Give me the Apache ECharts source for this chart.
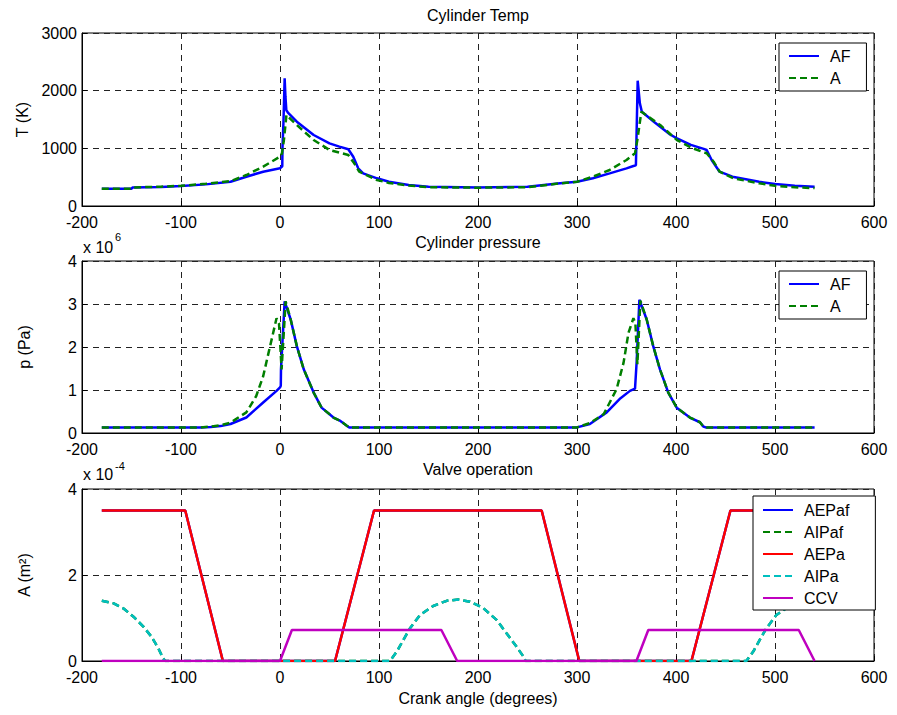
<!DOCTYPE html>
<html>
<head>
<meta charset="utf-8">
<script src="https://cdn.jsdelivr.net/npm/echarts@6/dist/echarts.min.js"></script>
<style>html,body{margin:0;padding:0;background:#fff}</style>
</head>
<body>
<div id="main" style="width:897px;height:715px"></div>
<script type="text/javascript">
// [crank angle (deg), value] pairs

// Cylinder Temp, K
var tempAF = [[-180,300],[-150,300],[-149,322],[-120,330],[-100,345],[-75,375],[-50,421],[-34,508],[-17,595],[0,654],[2.3,690],[2.5,1000],[3.5,1460],[4.7,2214],[5.5,1900],[6.4,1660],[8,1620],[17,1462],[34,1231],[50,1087],[60,1030],[69,983],[74,855],[79,653],[84,566],[98,480],[110,420],[130,365],[150,335],[200,320],[250,335],[283,393],[300,421],[316,480],[333,566],[350,653],[357,694],[359.5,705],[360,1100],[361.3,2173],[363.5,1781],[365.5,1635],[377,1470],[394,1240],[401,1174],[415,1060],[428,990],[431,971],[436,798],[444,595],[457,508],[484,421],[500,380],[520,350],[540,335]];
var tempA = [[-180,300],[-150,300],[-149,322],[-120,335],[-100,350],[-75,385],[-50,430],[-34,537],[-17,682],[0,855],[2,914],[4,1150],[6.5,1578],[17,1404],[34,1144],[50,971],[69,884],[75,740],[80,595],[98,451],[110,400],[130,355],[150,325],[200,318],[250,325],[283,393],[300,420],[316,508],[333,624],[350,798],[358.6,914],[361,1150],[365,1635],[384,1404],[401,1144],[417,1000],[431,914],[438,768],[444,595],[458,480],[484,393],[500,350],[520,325],[540,310]];

// Cylinder pressure, x 10^6 Pa
var presAF = [[-180,0.13],[-80,0.13],[-70,0.14],[-60,0.16],[-50,0.21],[-34,0.36],[-17,0.71],[-3.5,0.98],[0,1.06],[0.8,1.1],[1,1.48],[4.7,3.06],[10.8,2.64],[17,2.02],[24,1.48],[34,0.94],[42,0.59],[54,0.36],[61,0.28],[67.5,0.17],[70,0.13],[300,0.13],[313,0.21],[330,0.48],[343,0.79],[353.5,0.98],[358.6,1.03],[360.3,1.67],[363,3.1],[370.4,2.64],[377,2.02],[383.8,1.48],[392.2,0.94],[400.7,0.59],[414,0.36],[424.2,0.25],[427.6,0.15],[430,0.13],[540,0.13]];
var presA = [[-180,0.13],[-80,0.13],[-70,0.15],[-60,0.18],[-50,0.24],[-34,0.48],[-24,0.86],[-17,1.32],[-10,2.02],[-3.5,2.67],[-1,2.55],[1.6,1.48],[5.7,3.06],[10.8,2.64],[17,2.02],[24,1.48],[34,0.94],[42,0.59],[54,0.36],[61,0.28],[67.5,0.17],[70,0.13],[300,0.13],[313,0.23],[327,0.44],[340,1.02],[347,1.63],[352,2.33],[357,2.67],[359,2.55],[361,1.6],[364,3.08],[370.4,2.64],[377,2.02],[383.8,1.48],[392.2,0.94],[400.7,0.59],[414,0.36],[424.2,0.25],[427.6,0.15],[430,0.13],[540,0.13]];

// Valve operation, x 10^-4 m^2
var aepAF = [[-180,3.5],[-95.7,3.5],[-57.7,0],[55.6,0],[95,3.5],[264.3,3.5],[302.3,0],[415.6,0],[455,3.5],[540,3.5]];
var aipAF = [[-180,1.40],[-168,1.34],[-158,1.22],[-148,1.03],[-138,0.80],[-130,0.57],[-123,0.30],[-118,0.06],[-116,0],[111,0],[118,0.22],[124.6,0.49],[131.3,0.76],[141.4,1.07],[154.8,1.28],[168.4,1.40],[180,1.43],[192,1.38],[205.4,1.23],[219,0.95],[229,0.64],[239,0.33],[246,0.10],[248,0],[471,0],[478,0.22],[484.6,0.49],[491.3,0.76],[501.4,1.07],[514.8,1.28],[528.4,1.40],[540,1.43]];
var aepA = [[-180,3.5],[-95.7,3.5],[-57.7,0],[55.6,0],[95,3.5],[264.3,3.5],[302.3,0],[415.6,0],[455,3.5],[540,3.5]];
var aipA = [[-180,1.40],[-168,1.34],[-158,1.22],[-148,1.03],[-138,0.80],[-130,0.57],[-123,0.30],[-118,0.06],[-116,0],[111,0],[118,0.22],[124.6,0.49],[131.3,0.76],[141.4,1.07],[154.8,1.28],[168.4,1.40],[180,1.43],[192,1.38],[205.4,1.23],[219,0.95],[229,0.64],[239,0.33],[246,0.10],[248,0],[471,0],[478,0.22],[484.6,0.49],[491.3,0.76],[501.4,1.07],[514.8,1.28],[528.4,1.40],[540,1.43]];
var ccv = [[-180,0],[0,0],[12,0.72],[163,0.72],[179,0],[360,0],[372,0.72],[524,0.72],[540,0]];

var FONT = '"Liberation Sans", Arial, Helvetica, sans-serif';
var FS = 16;

var myChart = echarts.init(document.getElementById('main'), null, {renderer: 'svg'});

function plain(v) { return String(v); }

function xAx(i) {
    return {
        type: 'value', gridIndex: i, min: -200, max: 600, interval: 100,
        axisLine: {show: true, onZero: false, lineStyle: {color: '#000', width: 1}},
        axisTick: {show: true, inside: true, length: 5, lineStyle: {color: '#000'}},
        axisLabel: {color: '#000', fontSize: FS, fontFamily: FONT, margin: 8, formatter: plain},
        splitLine: {show: true, lineStyle: {color: '#222', width: 1, type: [6, 5]}}
    };
}
function yAx(i, max, step, name) {
    return {
        type: 'value', gridIndex: i, min: 0, max: max, interval: step,
        name: name, nameLocation: 'middle', nameGap: 50, nameRotate: 90,
        nameTextStyle: {color: '#000', fontSize: FS, fontFamily: FONT},
        axisLine: {show: true, onZero: false, lineStyle: {color: '#000', width: 1}},
        axisTick: {show: true, inside: true, length: 5, lineStyle: {color: '#000'}},
        axisLabel: {color: '#000', fontSize: FS, fontFamily: FONT, margin: 5, formatter: plain},
        splitLine: {show: true, lineStyle: {color: '#222', width: 1, type: [6, 5]}}
    };
}
function line(name, i, data, color, dashed) {
    return {
        name: name, type: 'line', xAxisIndex: i, yAxisIndex: i, data: data,
        symbol: 'none', animation: false,
        lineStyle: {color: color, width: 2.5, type: dashed ? [7, 4] : 'solid'},
        itemStyle: {color: color}
    };
}
function legendBox(names, left, top, pad) {
    return {
        data: names, orient: 'vertical', left: left, top: top, padding: pad,
        itemWidth: 30, itemHeight: 14, itemGap: 4,
        itemStyle: {opacity: 0, borderWidth: 0},
        backgroundColor: '#fff', borderColor: '#000', borderWidth: 1, borderRadius: 0,
        selectedMode: false,
        textStyle: {color: '#000', fontSize: FS, fontFamily: FONT, lineHeight: 18, padding: [0, 0, 0, 6]}
    };
}

option = {
    backgroundColor: '#fff',
    animation: false,
    grid: [
        {left: 82, top: 33, width: 792, height: 173, show: true, borderColor: '#000', borderWidth: 1},
        {left: 82, top: 261, width: 792, height: 172, show: true, borderColor: '#000', borderWidth: 1},
        {left: 82, top: 489, width: 792, height: 172, show: true, borderColor: '#000', borderWidth: 1}
    ],
    xAxis: [xAx(0), xAx(1), xAx(2)],
    yAxis: [yAx(0, 3000, 1000, 'T (K)'), yAx(1, 4, 1, 'p (Pa)'), yAx(2, 4, 2, 'A (m\u00b2)')],
    legend: [
        legendBox(['AF', 'A'], 779, 43, [4, 16, 4, 9]),
        legendBox(['AF', 'A'], 779, 271, [4, 16, 4, 9]),
        legendBox(['AEPaf', 'AIPaf', 'AEPa', 'AIPa', 'CCV'], 753, 496, [5, 26, 3, 9])
    ],
    graphic: [
        {type: 'text', x: 478, y: 15, style: {text: 'Cylinder Temp', fill: '#000', fontSize: FS, fontFamily: FONT, textAlign: 'center', textVerticalAlign: 'middle'}},
        {type: 'text', x: 478, y: 242, style: {text: 'Cylinder pressure', fill: '#000', fontSize: FS, fontFamily: FONT, textAlign: 'center', textVerticalAlign: 'middle'}},
        {type: 'text', x: 478, y: 469, style: {text: 'Valve operation', fill: '#000', fontSize: FS, fontFamily: FONT, textAlign: 'center', textVerticalAlign: 'middle'}},
        {type: 'text', x: 478, y: 698, style: {text: 'Crank angle (degrees)', fill: '#000', fontSize: FS, fontFamily: FONT, textAlign: 'center', textVerticalAlign: 'middle'}},
        {type: 'text', x: 83, y: 247, style: {text: 'x 10', fill: '#000', fontSize: FS, fontFamily: FONT, textVerticalAlign: 'middle'}},
        {type: 'text', x: 115, y: 237, style: {text: '6', fill: '#000', fontSize: 11, fontFamily: FONT, textVerticalAlign: 'middle'}},
        {type: 'text', x: 83, y: 474, style: {text: 'x 10', fill: '#000', fontSize: FS, fontFamily: FONT, textVerticalAlign: 'middle'}},
        {type: 'text', x: 115, y: 466, style: {text: '-4', fill: '#000', fontSize: 11, fontFamily: FONT, textVerticalAlign: 'middle'}}
    ],
    series: [
        line('AF', 0, tempAF, '#0000ff', false),
        line('A', 0, tempA, '#007f00', true),
        line('AF', 1, presAF, '#0000ff', false),
        line('A', 1, presA, '#007f00', true),
        line('AEPaf', 2, aepAF, '#0000ff', false),
        line('AIPaf', 2, aipAF, '#007f00', true),
        line('AEPa', 2, aepA, '#ff0000', false),
        line('AIPa', 2, aipA, '#00bfbf', true),
        line('CCV', 2, ccv, '#bf00bf', false)
    ]
};

if (option && typeof option === "object") {
    myChart.setOption(option, true);
}
</script>
</body>
</html>
